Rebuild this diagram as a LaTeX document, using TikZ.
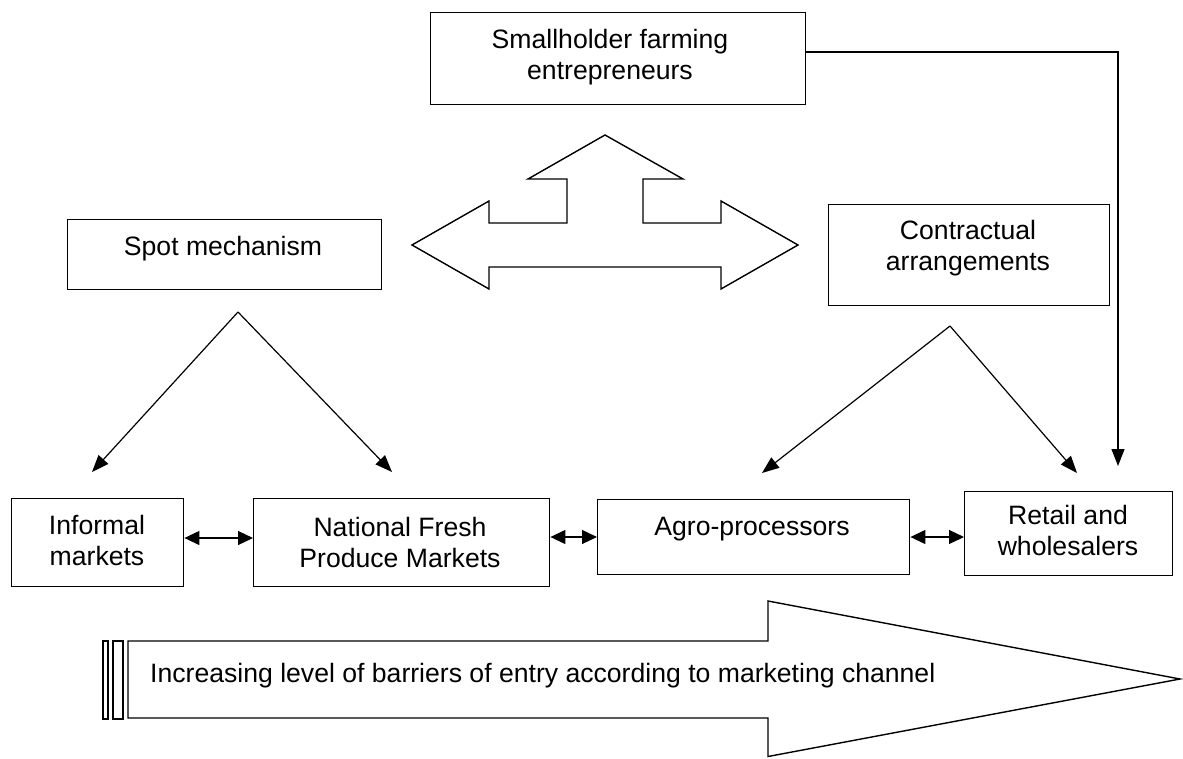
\documentclass[tikz,border=0pt]{standalone}
\usepackage{fontspec}
\setmainfont{Liberation Sans}
\usetikzlibrary{arrows.meta}
\begin{document}
\begin{tikzpicture}[x=1pt,y=-1pt,
  box/.style={draw, line width=1.4pt, inner sep=0pt, anchor=north west},
  txt/.style={font=\fontsize{26.6}{31}\selectfont, inner sep=0pt, align=center, anchor=north},
  conn/.style={line width=1.2pt, -{Triangle[length=17pt,width=13pt]}},
  dbl/.style={line width=1.2pt, {Triangle[length=15pt,width=14pt]}-{Triangle[length=15pt,width=14pt]}},
  outline/.style={draw, line width=1.4pt, line join=miter}
]
\useasboundingbox (0,0) rectangle (1183,758);

% boxes
\node[box, minimum width=375pt, minimum height=92pt] (small) at (430,12) {};
\node[box, minimum width=314pt, minimum height=70pt] (spot) at (67,219) {};
\node[box, minimum width=281pt, minimum height=101pt] (contract) at (828,204) {};
\node[box, minimum width=172pt, minimum height=88pt] (informal) at (11,498) {};
\node[box, minimum width=296pt, minimum height=88pt] (national) at (253,498) {};
\node[box, minimum width=312pt, minimum height=75pt] (agro) at (597,499) {};
\node[box, minimum width=208pt, minimum height=84pt] (retail) at (964,491) {};

% texts
\node[txt] (tsmall) at (610,29) {Smallholder farming\\entrepreneurs};
\node[txt] (tspot) at (223,236) {Spot mechanism};
\node[txt] (tcontract) at (968,220) {Contractual\\arrangements};
\node[txt] (tinformal) at (97,515) {Informal\\markets};
\node[txt] (tnational) at (400,517) {National Fresh\\Produce Markets};
\node[txt] (tagro) at (752,517) {Agro-processors};
\node[txt] (tretail) at (1068,505) {Retail and\\wholesalers};

% three-way arrow
\draw[outline] (412,245) -- (489,201) -- (489,223) -- (567,223) -- (567,179) -- (528,179)
  -- (605,135) -- (683,179) -- (643,179) -- (643,223) -- (721,223) -- (721,201)
  -- (798,245) -- (721,289) -- (721,267) -- (489,267) -- (489,289) -- cycle;

% coordinates for free connector ends
\coordinate (sapex) at (238,312);
\coordinate (sleft) at (92,472);
\coordinate (sright) at (392,472);
\coordinate (capex) at (950,326);
\coordinate (cleft) at (762,473);
\coordinate (cright) at (1077,473);
\coordinate (sh1) at (1118,52);
\coordinate (sh2) at (1118,466);
\coordinate (yA) at (0,538);
\coordinate (yB) at (0,537);

% connectors
\draw[conn] (sapex) -- (sleft);
\draw[conn] (sapex) -- (sright);
\draw[conn] (capex) -- (cleft);
\draw[conn] (capex) -- (cright);
\draw[conn] (small.east |- sh1) -- (sh1) -- (sh2);

\draw[dbl] (informal.east |- yA) -- (national.west |- yA);
\draw[dbl] (national.east |- yB) -- (agro.west |- yB);
\draw[dbl] (agro.east |- yB) -- (retail.west |- yB);

% big bottom arrow
\draw[outline] (103,641) rectangle (108,719);
\draw[outline] (113,641) rectangle (123,719);
\draw[outline] (128,641) -- (768,641) -- (768,601) -- (1180,679) -- (768,756.5) -- (768,718) -- (128,718) -- cycle;
\node[txt, anchor=north west] (tbar) at (150,663) {Increasing level of barriers of entry according to marketing channel};
\end{tikzpicture}
\end{document}
